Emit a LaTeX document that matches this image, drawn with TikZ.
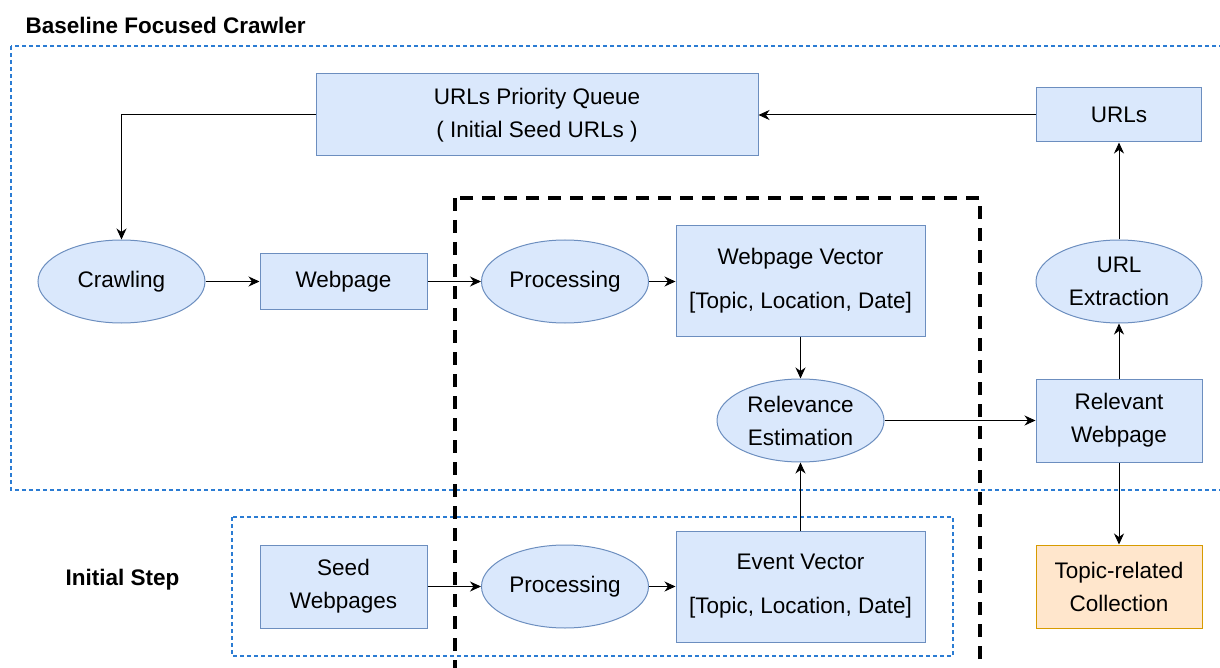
\documentclass[tikz,border=0pt]{standalone}
\usepackage{fontspec}
\setmainfont{Liberation Sans}
\usetikzlibrary{shapes.geometric,arrows.meta}
\definecolor{nodefill}{HTML}{DAE8FC}
\definecolor{nodeline}{HTML}{6C8EBF}
\definecolor{outfill}{HTML}{FFE6CC}
\definecolor{outline}{HTML}{D79B00}
\definecolor{groupline}{HTML}{2B7CD3}
\begin{document}
\begin{tikzpicture}[x=1pt,y=-1pt,
  every node/.style={font=\fontsize{22.5}{33}\selectfont},
  rbox/.style={draw=nodeline, fill=nodefill, line width=1pt, inner sep=0pt, align=center},
  oval/.style={ellipse, draw=nodeline, fill=nodefill, line width=1pt, inner sep=0pt,
               align=center, minimum width=167pt, minimum height=83pt},
  link/.style={-{Stealth[length=11pt,width=10pt,inset=3.5pt]}, line width=1pt},
  group/.style={draw=groupline, line width=1.3pt, dash pattern=on 4pt off 3pt},
  stage/.style={draw=black, line width=3.6pt, dash pattern=on 13pt off 9pt},
  heading/.style={font=\bfseries\fontsize{22.5}{27}\selectfont, anchor=west}
]
\useasboundingbox (0,0) rectangle (1220,668);

% group frames
\draw[group] (11,46) rectangle (1230,490);
\draw[group] (232,517) rectangle (953,656);
\node[heading] (title) at (22,25) {Baseline Focused Crawler};
\node[heading] (initial) at (62,580) {Initial Step};

% crawler loop
\node[rbox, minimum width=442pt, minimum height=82pt] (queue) at (537,115)
  {URLs Priority Queue\\( Initial Seed URLs )};
\node[rbox, minimum width=165pt, minimum height=54pt] (urls) at (1119,115) {URLs};
\node[oval] (crawl) at (121.5,281.5) {Crawling};
\node[rbox, minimum width=167pt, minimum height=56pt] (page) at (343.5,281.5) {Webpage};
\node[oval] (proc) at (565,281.5) {Processing};
\node[rbox, minimum width=249pt, minimum height=110pt] (pvec) at (800.5,281)
  {Webpage Vector\\[11pt][Topic, Location, Date]};
\node[oval] (rel) at (800.5,420.5) {Relevance\\Estimation};
\node[rbox, minimum width=166pt, minimum height=83pt] (relpage) at (1119,420.5)
  {Relevant\\Webpage};
\node[oval, minimum width=166pt] (extract) at (1119,281.5) {URL\\Extraction};
\node[rbox, draw=outline, fill=outfill, minimum width=166pt, minimum height=83pt]
  (coll) at (1119,586.5) {Topic-related\\Collection};

% initial step
\node[rbox, minimum width=167pt, minimum height=83pt] (seed) at (343.5,586.5)
  {Seed\\Webpages};
\node[oval] (proc2) at (565,586.5) {Processing};
\node[rbox, minimum width=249pt, minimum height=111pt] (evec) at (800.5,586.5)
  {Event Vector\\[11pt][Topic, Location, Date]};

% processing stage frame
\draw[stage] (455,198) rectangle (980,672);

% connectors
\draw[link] (queue.west) -| (crawl.north);
\draw[link] (crawl) -- (page);
\draw[link] (page) -- (proc);
\draw[link] (proc) -- (proc -| pvec.west);
\draw[link] (pvec) -- (rel);
\draw[link] (evec) -- (rel);
\draw[link] (rel) -- (relpage);
\draw[link] (relpage) -- (extract);
\draw[link] (extract) -- (urls);
\draw[link] (urls) -- (queue);
\draw[link] (relpage) -- (coll);
\draw[link] (seed) -- (proc2);
\draw[link] (proc2) -- (proc2 -| evec.west);
\end{tikzpicture}
\end{document}
